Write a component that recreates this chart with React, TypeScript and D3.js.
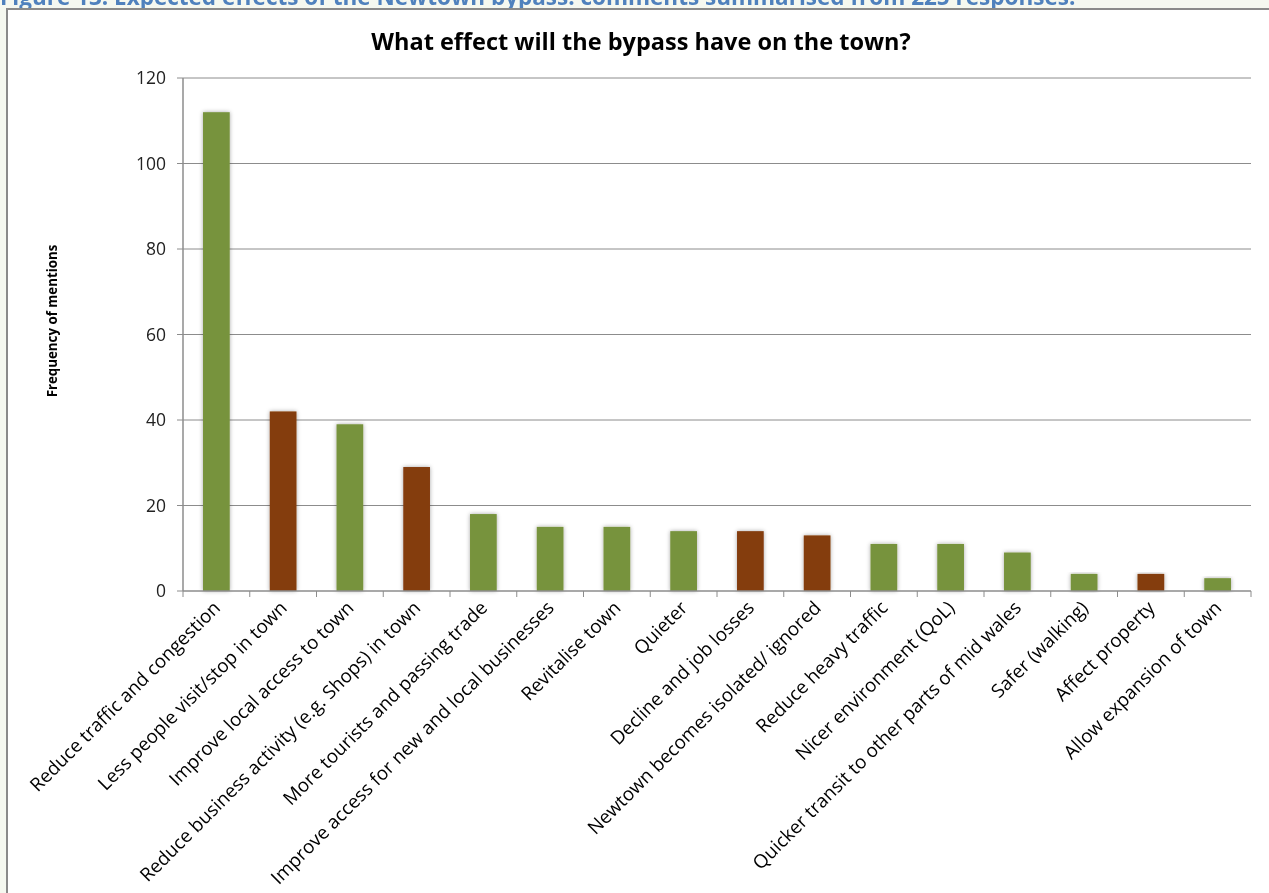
import React from 'react';
import * as d3 from 'd3';

const categories: string[] = [
    'Reduce traffic and congestion',
    'Less people visit/stop in town',
    'Improve local access to town',
    'Reduce business activity (e.g.  Shops) in town',
    'More tourists and passing trade',
    'Improve access for new and local businesses',
    'Revitalise town',
    'Quieter',
    'Decline and job losses',
    'Newtown becomes isolated/ ignored',
    'Reduce heavy traffic',
    'Nicer environment (QoL)',
    'Quicker transit to other parts of mid wales',
    'Safer (walking)',
    'Affect property',
    'Allow expansion of town',
];
const mentions: number[] = [112, 42, 39, 29, 18, 15, 15, 14, 14, 13, 11, 11, 9, 4, 4, 3];
// positive = expected benefit, negative = expected harm
const effect: string[] = ['pos', 'neg', 'pos', 'neg', 'pos', 'pos', 'pos', 'pos', 'neg', 'neg', 'pos', 'pos', 'pos', 'pos', 'neg', 'pos'];
const yTicks: number[] = [0, 20, 40, 60, 80, 100, 120];

const W = 1269;
const H = 893;
const margin = { left: 183, right: 18, top: 78, bottom: 302 };
const font = '"Open Sans", Lato, sans-serif';

export default function App() {
    const x = d3.scaleBand<string>()
        .domain(categories)
        .range([margin.left, W - margin.right])
        .paddingInner(0.6)
        .paddingOuter(0.3);
    const step = x.step();
    const y = d3.scaleLinear().domain([0, 120]).range([H - margin.bottom, margin.top]);
    const color = d3.scaleOrdinal<string, string>().domain(['pos', 'neg']).range(['#77933c', '#843c0c']);
    const y0 = y(0);
    const x0 = margin.left;
    const x1 = W - margin.right;

    return (
        <div style={{ position: 'fixed', left: 0, top: 0 }}>
            <svg width={W} height={H} style={{ display: 'block' }}>
                <defs>
                    <filter id="shadow" x="-30%" y="-10%" width="160%" height="120%">
                        <feDropShadow dx="0" dy="0" stdDeviation="2.2" floodColor="#000" floodOpacity="0.35" />
                    </filter>
                </defs>
                <rect x={0} y={0} width={W} height={H} fill="#f5f8f0" />
                <text x={0} y={5} fontFamily={font} fontWeight="bold" fontSize={22.5} fill="#4f81bd">
                    Figure 13: Expected effects of the Newtown bypass: comments summarised from 225 responses.
                </text>
                <rect x={7} y={9} width={W} height={H} fill="#fff" stroke="#8a8a8a" strokeWidth={2} />

                <text x={641} y={50} textAnchor="middle" fontFamily={font} fontWeight="bold" fontSize={23.5} fill="#000">
                    What effect will the bypass have on the town?
                </text>

                {yTicks.map(t => (
                    <g key={t}>
                        {t > 0 && <line x1={x0} x2={x1} y1={y(t)} y2={y(t)} stroke="#8c8c8c" strokeWidth={1} />}
                        <line x1={x0 - 6} x2={x0} y1={y(t)} y2={y(t)} stroke="#8c8c8c" strokeWidth={1} />
                        <text x={x0 - 17} y={y(t)} dy="0.36em" textAnchor="end" fontFamily={font} fontSize={17.5} fill="#222">
                            {t}
                        </text>
                    </g>
                ))}

                <text transform={`translate(57, 321) rotate(-90)`} textAnchor="middle"
                    fontFamily={font} fontWeight="bold" fontSize={13.3} fill="#000">
                    Frequency of mentions
                </text>

                {categories.map((c, i) => (
                    <rect key={c} x={x(c)} y={y(mentions[i])} width={x.bandwidth()} height={y0 - y(mentions[i])}
                        fill={color(effect[i])} filter="url(#shadow)" />
                ))}

                <line x1={x0} x2={x0} y1={margin.top} y2={y0} stroke="#8c8c8c" strokeWidth={1.5} />
                <line x1={x0} x2={x1} y1={y0} y2={y0} stroke="#8c8c8c" strokeWidth={1.5} />
                {d3.range(categories.length + 1).map(i => (
                    <line key={i} x1={x0 + i * step} x2={x0 + i * step} y1={y0} y2={y0 + 6} stroke="#8c8c8c" strokeWidth={1} />
                ))}

                {categories.map(c => {
                    const cx = (x(c) ?? 0) + x.bandwidth() / 2;
                    return (
                        <text key={c} transform={`translate(${cx + 5}, ${y0 + 18}) rotate(-45)`} textAnchor="end"
                            fontFamily={font} fontSize={18.8} fill="#000">
                            {c}
                        </text>
                    );
                })}
            </svg>
        </div>
    );
}
